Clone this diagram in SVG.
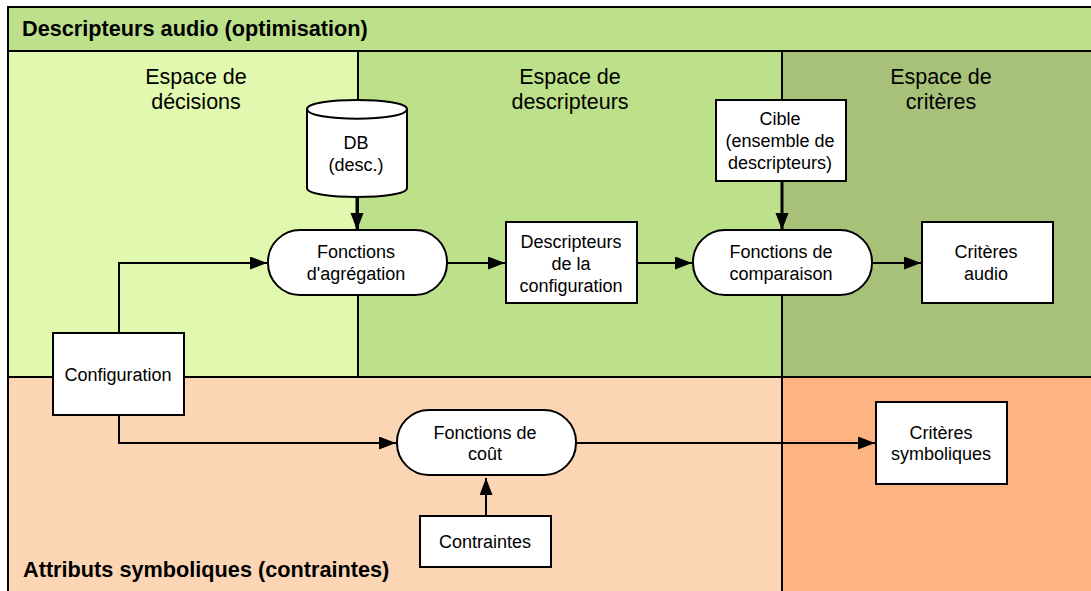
<svg xmlns="http://www.w3.org/2000/svg" width="1091" height="591" viewBox="0 0 1091 591">
<style>
text{font-family:"Liberation Sans",Arial,sans-serif;fill:#000;text-anchor:middle}
.n{font-size:18px}.s{font-size:21.5px}.b{font-size:21.7px;font-weight:bold;text-anchor:start}
.box{fill:#fff;stroke:#000;stroke-width:2}
.rule{fill:none;stroke:#000;stroke-width:2}
.c{fill:none;stroke:#000;stroke-width:2}
.c3{fill:none;stroke:#000;stroke-width:3}
</style>
<defs>
<marker id="a" markerUnits="userSpaceOnUse" markerWidth="18" markerHeight="14" refX="17" refY="6.5" orient="auto"><path d="M0 0L17 6.5L0 13z" fill="#000"/></marker>
</defs>
<rect x="0" y="0" width="1091" height="591" fill="#fff"/>
<g id="regions">
<rect x="8" y="7" width="1083" height="44" fill="#bde08a"/>
<rect x="8" y="51" width="350" height="326" fill="#e0f9ae"/>
<rect x="358" y="51" width="424" height="326" fill="#bde08a"/>
<rect x="782" y="51" width="309" height="326" fill="#a7c278"/>
<rect x="8" y="377" width="774" height="214" fill="#fcd6b4"/>
<rect x="782" y="377" width="309" height="214" fill="#fdb382"/>
<path class="rule" d="M8 591V7H1091M8 51H1091M8 377H1091M358 51V377M782 51V591"/>
<text class="b" x="22" y="36">Descripteurs audio (optimisation)</text>
<text class="b" x="23" y="577">Attributs symboliques (contraintes)</text>
<text class="s" x="196" y="84">Espace de</text><text class="s" x="196" y="109">décisions</text>
<text class="s" x="570" y="84">Espace de</text><text class="s" x="570" y="109">descripteurs</text>
<text class="s" x="941" y="84">Espace de</text><text class="s" x="941" y="109">critères</text>
</g>
<g id="connectors">
<path class="c3" d="M357 197V230" marker-end="url(#a)"/>
<path class="c" d="M119 333V263H267" marker-end="url(#a)"/>
<path class="c" d="M447 263H505" marker-end="url(#a)"/>
<path class="c" d="M637 263H692" marker-end="url(#a)"/>
<path class="c3" d="M782 181V230" marker-end="url(#a)"/>
<path class="c" d="M872 263H921" marker-end="url(#a)"/>
<path class="c" d="M119 415V443H396" marker-end="url(#a)"/>
<path class="c" d="M576 443H875" marker-end="url(#a)"/>
<path class="c" d="M486 516V478" marker-end="url(#a)"/>
</g>
<g id="db"><path class="box" d="M307 109C307 97 407 97 407 109V188C407 200 307 200 307 188Z"/><path class="rule" d="M307 109C307 122 407 122 407 109"/><text class="n" x="356" y="149">DB</text><text class="n" x="356" y="171">(desc.)</text></g>
<g id="agregation"><rect class="box" x="268" y="230" width="179" height="65" rx="32" ry="32"/><text class="n" x="356" y="258">Fonctions</text><text class="n" x="356" y="280">d'agrégation</text></g>
<g id="descripteurs-config"><rect class="box" x="506" y="222" width="131" height="81"/><text class="n" x="571" y="248">Descripteurs</text><text class="n" x="571" y="270">de la</text><text class="n" x="571" y="292">configuration</text></g>
<g id="cible"><rect class="box" x="716" y="100" width="130" height="81"/><text class="n" x="780" y="125">Cible</text><text class="n" x="780" y="147">(ensemble de</text><text class="n" x="780" y="169">descripteurs)</text></g>
<g id="comparaison"><rect class="box" x="693" y="230" width="179" height="65" rx="32" ry="32"/><text class="n" x="781" y="258">Fonctions de</text><text class="n" x="781" y="280">comparaison</text></g>
<g id="criteres-audio"><rect class="box" x="922" y="222" width="131" height="81"/><text class="n" x="986" y="258">Critères</text><text class="n" x="986" y="280">audio</text></g>
<g id="configuration"><rect class="box" x="53" y="333" width="131" height="82"/><text class="n" x="118" y="381">Configuration</text></g>
<g id="cout"><rect class="box" x="397" y="410" width="179" height="65" rx="32" ry="32"/><text class="n" x="485" y="439">Fonctions de</text><text class="n" x="485" y="460">coût</text></g>
<g id="contraintes"><rect class="box" x="420" y="516" width="131" height="51"/><text class="n" x="485" y="548">Contraintes</text></g>
<g id="criteres-symboliques"><rect class="box" x="876" y="402" width="131" height="82"/><text class="n" x="941" y="439">Critères</text><text class="n" x="941" y="460">symboliques</text></g>
</svg>
